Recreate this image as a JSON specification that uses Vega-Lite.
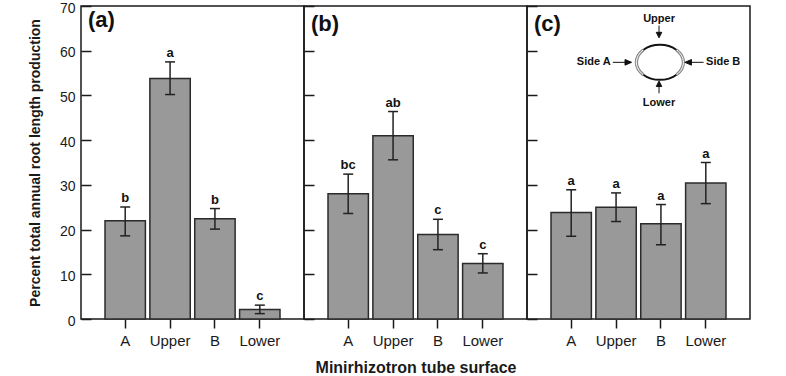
{
  "$schema": "https://vega.github.io/schema/vega-lite/v6.json",
  "padding": {"left": 27, "top": 0, "right": 36, "bottom": 0},
  "background": "white",
  "bounds": "flush",
  "spacing": 0,
  "config": {
    "font": "Liberation Sans",
    "view": {"stroke": "#1a1a1a", "strokeWidth": 1.5},
    "axis": {"grid": false, "domain": false, "tickColor": "#1a1a1a", "tickWidth": 1.5, "labelColor": "#1a1a1a", "titleColor": "#1a1a1a", "minExtent": 0},
    "title": {"anchor": "start", "frame": "group", "fontSize": 22, "fontWeight": "bold", "color": "#111111", "baseline": "alphabetic", "dx": 7, "offset": -31}
  },
  "datasets": {
    "bars": [
      {"panel": "a", "surface": "A", "mean": 22.0, "lo": 18.6, "hi": 25.05, "letter": "b"},
      {"panel": "a", "surface": "Upper", "mean": 53.8, "lo": 50.2, "hi": 57.5, "letter": "a"},
      {"panel": "a", "surface": "B", "mean": 22.4, "lo": 20.1, "hi": 24.7, "letter": "b"},
      {"panel": "a", "surface": "Lower", "mean": 2.15, "lo": 1.2, "hi": 3.1, "letter": "c"},
      {"panel": "b", "surface": "A", "mean": 28.0, "lo": 23.6, "hi": 32.4, "letter": "bc"},
      {"panel": "b", "surface": "Upper", "mean": 41.0, "lo": 35.6, "hi": 46.4, "letter": "ab"},
      {"panel": "b", "surface": "B", "mean": 18.9, "lo": 15.5, "hi": 22.3, "letter": "c"},
      {"panel": "b", "surface": "Lower", "mean": 12.4, "lo": 10.3, "hi": 14.6, "letter": "c"},
      {"panel": "c", "surface": "A", "mean": 23.8, "lo": 18.5, "hi": 28.9, "letter": "a"},
      {"panel": "c", "surface": "Upper", "mean": 25.0, "lo": 21.8, "hi": 28.2, "letter": "a"},
      {"panel": "c", "surface": "B", "mean": 21.3, "lo": 16.6, "hi": 25.6, "letter": "a"},
      {"panel": "c", "surface": "Lower", "mean": 30.4, "lo": 25.8, "hi": 35.0, "letter": "a"}
    ]
  },
  "hconcat": [
    {
      "width": 223, "height": 313,
      "title": {"text": "(a)"},
      "data": {"name": "bars"},
      "transform": [{"filter": "datum.panel == 'a'"}],
      "encoding": {
        "x": {"field": "surface", "type": "nominal", "sort": ["A", "Upper", "B", "Lower"], "scale": {"paddingInner": 0.1, "paddingOuter": 0.535},
          "axis": {"title": null, "labelAngle": 0, "labelFontSize": 15, "tickSize": 9, "labelPadding": 5}}
      },
      "layer": [
        {"mark": {"type": "bar", "fill": "#999999", "stroke": "#2b2b2b", "strokeWidth": 1.5},
          "encoding": {"y": {"field": "mean", "type": "quantitative", "scale": {"domain": [0, 70], "nice": false},
            "axis": {"title": "Percent total annual root length production", "titleFontSize": 14, "titleFontWeight": "bold", "titlePadding": 17, "values": [0, 10, 20, 30, 40, 50, 60, 70], "labelFontSize": 14, "labelOffset": 2, "tickSize": -10, "labelPadding": 16}}}},
        {"mark": {"type": "rule", "color": "#222222", "strokeWidth": 1.5},
          "encoding": {"y": {"field": "lo", "type": "quantitative", "title": "Percent total annual root length production"}, "y2": {"field": "hi"}}},
        {"mark": {"type": "tick", "size": 10, "thickness": 1.5, "color": "#222222", "opacity": 1},
          "encoding": {"y": {"field": "lo", "type": "quantitative", "title": "Percent total annual root length production"}}},
        {"mark": {"type": "tick", "size": 10, "thickness": 1.5, "color": "#222222", "opacity": 1},
          "encoding": {"y": {"field": "hi", "type": "quantitative", "title": "Percent total annual root length production"}}},
        {"mark": {"type": "text", "dy": -5, "baseline": "alphabetic", "fontWeight": "bold", "fontSize": 13, "color": "#111111"},
          "encoding": {"y": {"field": "hi", "type": "quantitative", "title": "Percent total annual root length production"}, "text": {"field": "letter"}}}
      ]
    },
    {
      "width": 223, "height": 313,
      "title": {"text": "(b)"},
      "data": {"name": "bars"},
      "transform": [{"filter": "datum.panel == 'b'"}],
      "encoding": {
        "x": {"field": "surface", "type": "nominal", "sort": ["A", "Upper", "B", "Lower"], "scale": {"paddingInner": 0.1, "paddingOuter": 0.535},
          "axis": {"title": "Minirhizotron tube surface", "titleFontSize": 16, "titleFontWeight": "bold", "titlePadding": 11, "labelAngle": 0, "labelFontSize": 15, "tickSize": 9, "labelPadding": 5}}
      },
      "layer": [
        {"mark": {"type": "bar", "fill": "#999999", "stroke": "#2b2b2b", "strokeWidth": 1.5},
          "encoding": {"y": {"field": "mean", "type": "quantitative", "scale": {"domain": [0, 70], "nice": false},
            "axis": {"title": null, "labels": false, "values": [0, 10, 20, 30, 40, 50, 60, 70], "tickSize": -10}}}},
        {"mark": {"type": "rule", "color": "#222222", "strokeWidth": 1.5},
          "encoding": {"y": {"field": "lo", "type": "quantitative", "title": null}, "y2": {"field": "hi"}}},
        {"mark": {"type": "tick", "size": 10, "thickness": 1.5, "color": "#222222", "opacity": 1},
          "encoding": {"y": {"field": "lo", "type": "quantitative", "title": null}}},
        {"mark": {"type": "tick", "size": 10, "thickness": 1.5, "color": "#222222", "opacity": 1},
          "encoding": {"y": {"field": "hi", "type": "quantitative", "title": null}}},
        {"mark": {"type": "text", "dy": -5, "baseline": "alphabetic", "fontWeight": "bold", "fontSize": 13, "color": "#111111"},
          "encoding": {"y": {"field": "hi", "type": "quantitative", "title": null}, "text": {"field": "letter"}}}
      ]
    },
    {
      "width": 223, "height": 313,
      "title": {"text": "(c)"},
      "resolve": {"scale": {"x": "independent", "y": "independent"}},
      "layer": [
        {
          "data": {"name": "bars"},
          "transform": [{"filter": "datum.panel == 'c'"}],
          "encoding": {
            "x": {"field": "surface", "type": "nominal", "sort": ["A", "Upper", "B", "Lower"], "scale": {"paddingInner": 0.1, "paddingOuter": 0.535},
              "axis": {"title": null, "labelAngle": 0, "labelFontSize": 15, "tickSize": 9, "labelPadding": 5}}
          },
          "layer": [
            {"mark": {"type": "bar", "fill": "#999999", "stroke": "#2b2b2b", "strokeWidth": 1.5},
              "encoding": {"y": {"field": "mean", "type": "quantitative", "scale": {"domain": [0, 70], "nice": false},
                "axis": {"title": null, "labels": false, "values": [0, 10, 20, 30, 40, 50, 60, 70], "tickSize": -10}}}},
            {"mark": {"type": "rule", "color": "#222222", "strokeWidth": 1.5},
              "encoding": {"y": {"field": "lo", "type": "quantitative", "title": null}, "y2": {"field": "hi"}}},
            {"mark": {"type": "tick", "size": 10, "thickness": 1.5, "color": "#222222", "opacity": 1},
              "encoding": {"y": {"field": "lo", "type": "quantitative", "title": null}}},
            {"mark": {"type": "tick", "size": 10, "thickness": 1.5, "color": "#222222", "opacity": 1},
              "encoding": {"y": {"field": "hi", "type": "quantitative", "title": null}}},
            {"mark": {"type": "text", "dy": -5, "baseline": "alphabetic", "fontWeight": "bold", "fontSize": 13, "color": "#111111"},
              "encoding": {"y": {"field": "hi", "type": "quantitative", "title": null}, "text": {"field": "letter"}}}
          ]
        },
        {
          "encoding": {
            "x": {"field": "ix", "type": "quantitative", "scale": {"domain": [0, 10], "nice": false, "zero": false}, "axis": null},
            "y": {"field": "iy", "type": "quantitative", "scale": {"domain": [0, 14], "nice": false, "zero": false}, "axis": null}
          },
          "layer": [
            {"data": {"values": [{"ix": 5.96, "iy": 11.48}]},
              "mark": {"type": "point", "filled": false, "stroke": "#111111", "strokeWidth": 2, "opacity": 1, "size": 2209,
                "shape": "M -1 0 C -1 -0.4114 -0.5523 -0.745 0 -0.745 C 0.5523 -0.745 1 -0.4114 1 0 C 1 0.4114 0.5523 0.745 0 0.745 C -0.5523 0.745 -1 0.4114 -1 0 Z"}},
            {"data": {"values": [{"ix": 5.96, "iy": 11.48}]},
              "mark": {"type": "point", "filled": false, "stroke": "#8a8a8a", "strokeWidth": 3.2, "opacity": 1, "size": 2209,
                "shape": "M -0.707 -0.527 C -1.0975 -0.236 -1.0975 0.236 -0.707 0.527 M 0.707 -0.527 C 1.0975 -0.236 1.0975 0.236 0.707 0.527"}},
            {"data": {"values": [{"ix": 5.96, "iy": 11.48}]},
              "mark": {"type": "point", "filled": false, "stroke": "#ffffff", "strokeWidth": 1, "opacity": 1, "size": 2209,
                "shape": "M -0.707 -0.527 C -1.0975 -0.236 -1.0975 0.236 -0.707 0.527 M 0.707 -0.527 C 1.0975 -0.236 1.0975 0.236 0.707 0.527"}},
            {"data": {"values": [{"ix": 4.27, "iy": 11.48, "dir": 0}, {"ix": 7.5, "iy": 11.48, "dir": 180}]},
              "mark": {"type": "point", "filled": true, "fill": "#111111", "stroke": "#111111", "strokeWidth": 1, "opacity": 1, "size": 350,
                "shape": "M -1 0 L 0.4 0 M 0.3 -0.3 L 1 0 L 0.3 0.3 Z"},
              "encoding": {"angle": {"field": "dir", "type": "quantitative", "scale": null}}},
            {"data": {"values": [{"ix": 5.92, "iy": 12.85, "dir": 90}, {"ix": 5.92, "iy": 10.37, "dir": 270}]},
              "mark": {"type": "point", "filled": true, "fill": "#111111", "stroke": "#111111", "strokeWidth": 1, "opacity": 1, "size": 150,
                "shape": "M -1 0 L 0.3 0 M 0.1 -0.45 L 1 0 L 0.1 0.45 Z"},
              "encoding": {"angle": {"field": "dir", "type": "quantitative", "scale": null}}},
            {"data": {"values": [{"ix": 5.92, "iy": 13.43, "lab": "Upper"}, {"ix": 5.92, "iy": 9.67, "lab": "Lower"}]},
              "mark": {"type": "text", "align": "center", "baseline": "middle", "fontSize": 11, "fontWeight": "bold", "color": "#111111"},
              "encoding": {"text": {"field": "lab"}}},
            {"data": {"values": [{"ix": 3.75, "iy": 11.48, "lab": "Side A"}]},
              "mark": {"type": "text", "align": "right", "baseline": "middle", "fontSize": 11, "fontWeight": "bold", "color": "#111111"},
              "encoding": {"text": {"field": "lab"}}},
            {"data": {"values": [{"ix": 8.03, "iy": 11.48, "lab": "Side B"}]},
              "mark": {"type": "text", "align": "left", "baseline": "middle", "fontSize": 11, "fontWeight": "bold", "color": "#111111"},
              "encoding": {"text": {"field": "lab"}}}
          ]
        }
      ]
    }
  ]
}
